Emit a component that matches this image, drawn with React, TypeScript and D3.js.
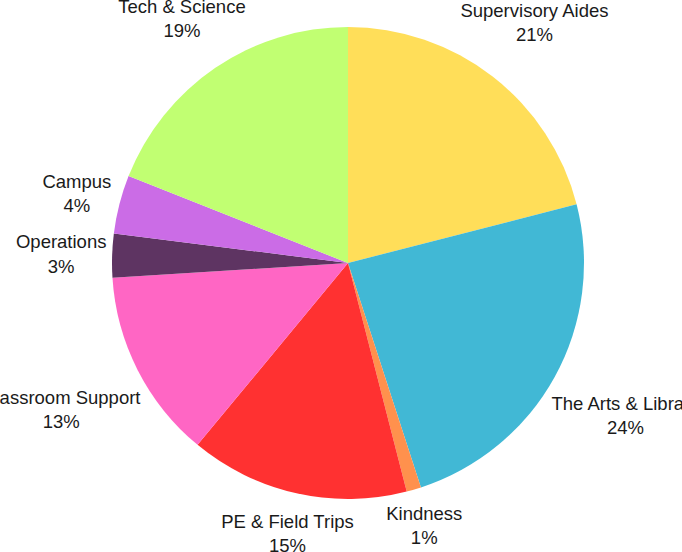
import React, { useEffect, useRef } from "react";
import * as d3 from "d3";

// Slice data, clockwise from 12 o'clock
const categories = [
  "Supervisory Aides",
  "The Arts & Library",
  "Kindness",
  "PE & Field Trips",
  "Classroom Support",
  "Operations",
  "Campus",
  "Tech & Science",
];
const values = [21, 24, 1, 15, 13, 3, 4, 19];
const colors = [
  "#FFDE59",
  "#41B8D5",
  "#FF914D",
  "#FF3131",
  "#FF66C4",
  "#5E3462",
  "#CB6CE6",
  "#C1FF72",
];

const App: React.FC = () => {
  const svgRef = useRef<SVGSVGElement>(null);

  useEffect(() => {
    if (!svgRef.current) return;
    const root = d3.select(svgRef.current);
    root.selectAll("*").remove();

    const width = 682;
    const height = 552;
    const cx = 348;
    const cy = 263;
    const radius = 236;
    const labelGap = 5;

    const data = categories.map((name, i) => ({
      name,
      value: values[i],
      color: colors[i],
    }));
    const total = d3.sum(values);

    const pie = d3
      .pie<{ name: string; value: number; color: string }>()
      .value((d) => d.value)
      .sort(null);
    const arcs = pie(data);
    const arc = d3
      .arc<d3.PieArcDatum<{ name: string; value: number; color: string }>>()
      .innerRadius(0)
      .outerRadius(radius);

    root.attr("width", width).attr("height", height);
    const g = root.append("g").attr("transform", `translate(${cx},${cy})`);

    // Slices
    g.selectAll("path.slice")
      .data(arcs)
      .enter()
      .append("path")
      .attr("class", "slice")
      .attr("d", arc)
      .attr("fill", (d) => d.data.color);

    // Labels: name + percent, placed just outside along the mid angle
    const labels = g
      .selectAll("text.label")
      .data(arcs)
      .enter()
      .append("text")
      .attr("class", "label")
      .attr("text-anchor", "middle")
      .style("font-family", "'Liberation Sans', Arial, sans-serif")
      .style("font-size", "18.5px")
      .style("fill", "#1a1a1a");

    labels
      .append("tspan")
      .attr("x", 0)
      .attr("y", 0)
      .text((d) => d.data.name);
    labels
      .append("tspan")
      .attr("x", 0)
      .attr("dy", "1.3em")
      .text((d) => `${Math.round((d.data.value / total) * 100)}%`);

    labels.each(function (d) {
      const node = this as SVGTextElement;
      const box = node.getBBox();
      const mid = (d.startAngle + d.endAngle) / 2;
      const sx = Math.sin(mid);
      const sy = -Math.cos(mid);
      const hw = box.width / 2;
      const hh = box.height / 2;
      const dist = radius + labelGap + hw * Math.abs(sx) + hh * Math.abs(sy);
      const tx = dist * sx;
      const ty = dist * sy;
      // shift so the bbox center lands on (tx, ty)
      const bcx = box.x + hw;
      const bcy = box.y + hh;
      d3.select(node).attr(
        "transform",
        `translate(${tx - bcx},${ty - bcy})`
      );
    });
  }, []);

  return (
    <div
      style={{
        position: "absolute",
        left: 0,
        top: 0,
        width: "682px",
        height: "552px",
        overflow: "hidden",
        background: "#ffffff",
      }}
    >
      <svg ref={svgRef} style={{ display: "block" }}></svg>
    </div>
  );
};

export default App;
